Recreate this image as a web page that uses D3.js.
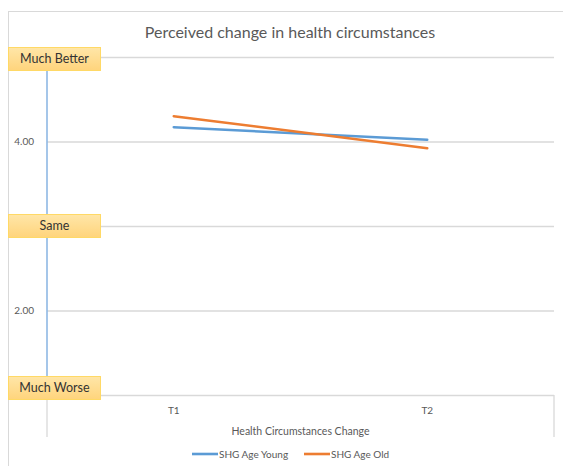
<!DOCTYPE html>
<html>
<head>
<meta charset="utf-8">
<script src="https://cdn.jsdelivr.net/npm/d3@7"></script>
<style>
  html, body { margin: 0; padding: 0; background: #fff; }
  svg { display: block; font-family: Lato, "Open Sans", "Liberation Sans", sans-serif; }
</style>
</head>
<body>
<svg id="chart" width="563" height="466"></svg>
<script>
// ---- data ----
const categories = ["T1", "T2"];
const seriesNames = ["SHG Age Young", "SHG Age Old"];
const youngValues = [4.17, 4.02];
const oldValues = [4.30, 3.92];
const gridValues = [1, 2, 3, 4, 5];
const numericTicks = [2, 4];
const anchorValues = [5, 3, 1];
const anchorLabels = ["Much Better", "Same", "Much Worse"];
const chartTitle = "Perceived change in health circumstances";
const xAxisTitle = "Health Circumstances Change";

// ---- layout ----
const plot = { left: 47, right: 554, top: 57, bottom: 395 };
const colors = { young: "#5B9BD5", old: "#ED7D31", grid: "#D9D9D9", text: "#595959" };
const anchorNudge = [-10, -12, -19];   // vertical placement of the label boxes
const boxWidth = 92, boxHeight = 23;

const svg = d3.select("#chart");

const x = d3.scaleBand().domain(categories).range([plot.left, plot.right]);
const y = d3.scaleLinear().domain([1, 5]).range([plot.bottom, plot.top]);

// gradient for label boxes
const defs = svg.append("defs");
const grad = defs.append("linearGradient").attr("id", "boxFill")
  .attr("x1", 0).attr("y1", 0).attr("x2", 0).attr("y2", 1);
grad.append("stop").attr("offset", "0%").attr("stop-color", "#FFE6A8");
grad.append("stop").attr("offset", "100%").attr("stop-color", "#FFD47C");

// chart frame
svg.append("rect")
  .attr("x", 8.5).attr("y", 11.5).attr("width", 600).attr("height", 500)
  .attr("fill", "#fff").attr("stroke", colors.grid).attr("stroke-width", 1);

// title
svg.append("text")
  .attr("x", 290).attr("y", 38)
  .attr("text-anchor", "middle")
  .attr("font-size", 16)
  .attr("fill", colors.text)
  .text(chartTitle);

// horizontal gridlines
const grid = svg.append("g")
  .attr("transform", `translate(${plot.left},0)`)
  .call(d3.axisLeft(y).tickValues(gridValues).tickSize(-(plot.right - plot.left)).tickFormat(""));
grid.select(".domain").remove();
grid.selectAll(".tick line").attr("stroke", colors.grid).attr("stroke-width", 1.3);

// category axis box (sides below the plot)
const catBottom = 437;
svg.append("g").selectAll("line")
  .data([plot.left, plot.right])
  .join("line")
  .attr("x1", d => d).attr("x2", d => d)
  .attr("y1", plot.bottom).attr("y2", catBottom)
  .attr("stroke", colors.grid).attr("stroke-width", 1.3);

// value axis line
svg.append("line")
  .attr("x1", plot.left).attr("x2", plot.left)
  .attr("y1", y(5)).attr("y2", y(1))
  .attr("stroke", "#8FB8E4").attr("stroke-width", 1.6);

// numeric tick labels
const yAxis = svg.append("g")
  .attr("transform", `translate(${plot.left - 10},0)`)
  .call(d3.axisLeft(y).tickValues(numericTicks).tickSize(0).tickFormat(d3.format(".2f")));
yAxis.select(".domain").remove();
yAxis.selectAll("text")
  .attr("font-size", 10).attr("fill", colors.text)
  .attr("font-family", "Lato, 'Open Sans', sans-serif");

// category labels
const xAxis = svg.append("g")
  .attr("transform", `translate(0,${plot.bottom + 9})`)
  .call(d3.axisBottom(x).tickSize(0));
xAxis.select(".domain").remove();
xAxis.selectAll("text")
  .attr("font-size", 10).attr("fill", colors.text)
  .attr("font-family", "Lato, 'Open Sans', sans-serif");

// axis title
svg.append("text")
  .attr("x", (plot.left + plot.right) / 2).attr("y", 435)
  .attr("text-anchor", "middle")
  .attr("font-size", 10.5).attr("fill", colors.text)
  .text(xAxisTitle);

// series lines
const line = d3.line()
  .x((d, i) => x(categories[i]) + x.bandwidth() / 2)
  .y(d => y(d));
const series = [
  { name: seriesNames[0], values: youngValues, color: colors.young },
  { name: seriesNames[1], values: oldValues, color: colors.old }
];
svg.append("g").selectAll("path")
  .data(series)
  .join("path")
  .attr("d", d => line(d.values))
  .attr("fill", "none")
  .attr("stroke", d => d.color)
  .attr("stroke-width", 2.5)
  .attr("stroke-linecap", "round");

// verbal anchor boxes on the value axis
const boxes = svg.append("g").selectAll("g")
  .data(anchorValues)
  .join("g")
  .attr("transform", (d, i) => `translate(8.5,${y(d) + anchorNudge[i] + 0.5})`);
boxes.append("rect")
  .attr("width", boxWidth).attr("height", boxHeight)
  .attr("fill", "url(#boxFill)")
  .attr("stroke", "#FFD966").attr("stroke-width", 1);
boxes.append("text")
  .attr("x", boxWidth / 2).attr("y", boxHeight / 2)
  .attr("dy", "0.35em")
  .attr("text-anchor", "middle")
  .attr("font-size", 12.5).attr("fill", "#333")
  .text((d, i) => anchorLabels[i]);

// legend
const legendX = [192, 304];
const legend = svg.append("g").selectAll("g")
  .data(series)
  .join("g")
  .attr("transform", (d, i) => `translate(${legendX[i]},454)`);
legend.append("line")
  .attr("x1", 0).attr("x2", 26)
  .attr("stroke", d => d.color).attr("stroke-width", 2.6);
legend.append("text")
  .attr("x", 27).attr("dy", "0.35em")
  .attr("font-size", 10).attr("fill", colors.text)
  .text(d => d.name);
</script>
</body>
</html>
